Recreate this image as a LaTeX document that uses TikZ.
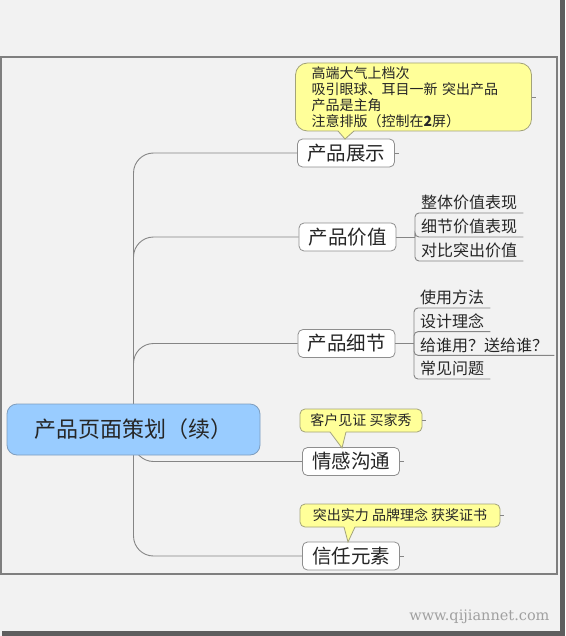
\documentclass[tikz,border=0pt]{standalone}
\usepackage{fontspec}
\usepackage{xcolor}
\newfontfamily\cjk{Noto Sans CJK SC}
\newfontfamily\markfont{DejaVu Serif}
\definecolor{Paper}{HTML}{F2F2F2}
\definecolor{Shade}{HTML}{5E5E5E}
\definecolor{FrameGrey}{HTML}{7F7F7F}
\definecolor{LinkGrey}{HTML}{858585}
\definecolor{BoxLine}{HTML}{8E8E8E}
\definecolor{RootBlue}{HTML}{99CCFF}
\definecolor{RootLine}{HTML}{7E9DBE}
\definecolor{NoteYellow}{HTML}{FFFF99}
\definecolor{NoteLine}{HTML}{A3A37A}
\definecolor{TextDark}{HTML}{262626}
\definecolor{MarkGrey}{HTML}{A0A0A0}

\begin{document}
\begin{tikzpicture}[x=1pt, y=-1pt,
    link/.style={draw=LinkGrey, line width=0.9pt},
    topic/.style={draw=BoxLine, fill=white, rounded corners=5pt, line width=0.8pt, minimum width=97pt, minimum height=28pt, inner sep=0pt, text=TextDark, font=\cjk\fontsize{19.5}{19.5}\selectfont},
    root/.style={draw=RootLine, fill=RootBlue, rounded corners=10pt, line width=0.8pt, minimum width=253pt, minimum height=51pt, inner sep=0pt, text=TextDark, font=\cjk\fontsize{22}{22}\selectfont},
    leaf/.style={anchor=south west, inner xsep=6pt, inner ysep=1pt, text height=12pt, text depth=3pt, text=TextDark, font=\cjk\fontsize{16}{16}\selectfont},
    note/.style={draw=NoteLine, fill=NoteYellow, line width=0.8pt, inner ysep=0pt, text=TextDark, align=left, font=\cjk\fontsize{14}{16}\selectfont}]
    \newcommand*{\hubr}{4pt}
    \newcommand*{\trunkr}{20pt}
    \useasboundingbox (0,0) rectangle (565,636);
    \fill[Paper] (0,0) rectangle (565,636);
    \fill[Shade] (560,0) rectangle (565,636);
    \fill[Shade] (2,631) rectangle (565,636);
    \draw[FrameGrey, line width=1.2pt] (1,57) rectangle (557,574);

    \coordinate (trunk) at (133.5,429.5);
    \node[topic] (show) at (346,153) {产品展示};
    \node[topic] (value) at (347.5,237) {产品价值};
    \node[topic] (detail) at (346.5,343.5) {产品细节};
    \node[topic] (emotion) at (351,461.5) {情感沟通};
    \node[topic] (trust) at (351,556) {信任元素};
    \foreach \b in {show,value,detail,emotion,trust}
        \draw[link, rounded corners=\trunkr] (trunk) |- (\b.west);

    \coordinate (valuehub) at (415,237);
    \draw[link] (value.east) -- (valuehub);
    \foreach \t [count=\i] in {整体价值表现,细节价值表现,对比突出价值} {
        \node[leaf] (value\i) at (415,189+24*\i) {\t};
        \draw[link, rounded corners=\hubr] (valuehub) |- (value\i.south east);
    }

    \coordinate (detailhub) at (414,343.5);
    \draw[link] (detail.east) -- (detailhub);
    \foreach \t [count=\i] in {使用方法,设计理念,给谁用？送给谁？,常见问题} {
        \node[leaf] (detail\i) at (414,284.33+23.67*\i) {\t};
        \draw[link, rounded corners=\hubr] (detailhub) |- (detail\i.south east);
    }

    \node[root] (plan) at (trunk) {产品页面策划（续）};

    \node[note, rounded corners=12pt, minimum width=236pt, minimum height=68pt, inner xsep=16pt, text width=204pt] (showtip) at (413.5,97)
        {高端大气上档次\\吸引眼球、耳目一新 突出产品\\产品是主角\\注意排版（控制在\textbf{2}屏）};
    \node[note, rounded corners=5pt, minimum width=122pt, minimum height=23pt, inner xsep=8pt] (emotiontip) at (361,420.5) {客户见证 买家秀};
    \node[note, rounded corners=5pt, minimum width=200pt, minimum height=23pt, inner xsep=8pt] (trusttip) at (400,515.5) {突出实力 品牌理念 获奖证书};

    \fill[NoteYellow] (338,130) -- (345,139) -- (354,130) -- cycle;
    \draw[NoteLine, line width=0.8pt] (338,131) -- (345,139) -- (354,131);
    \fill[NoteYellow] (330,431) -- (342,448) -- (346,431) -- cycle;
    \draw[NoteLine, line width=0.8pt] (330,432) -- (342,448) -- (346,432);
    \fill[NoteYellow] (344,526) -- (348,542) -- (355,526) -- cycle;
    \draw[NoteLine, line width=0.8pt] (344,527) -- (348,542) -- (355,527);

    \foreach \n in {show,emotion,trust,showtip,emotiontip,trusttip}
        \draw[link] (\n.east) -- ++(4,0);

    \node[anchor=east, text=MarkGrey, font=\markfont\fontsize{14.5}{14.5}\selectfont] (mark) at (553,617) {www.qijiannet.com};
\end{tikzpicture}
\end{document}
